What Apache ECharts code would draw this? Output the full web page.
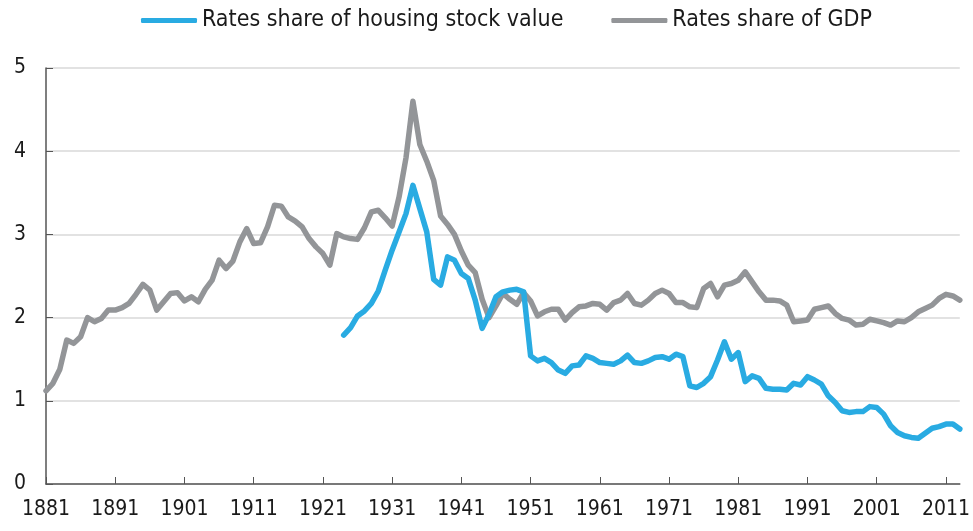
<!DOCTYPE html>
<html>
<head>
<meta charset="utf-8">
<script src="https://cdn.jsdelivr.net/npm/echarts@6/dist/echarts.min.js"></script>
<style>
  html, body { margin: 0; padding: 0; background: #fff; }
  #main { width: 973px; height: 531px; }
</style>
</head>
<body>
<div id="main"></div>
<script>
// years on the x axis
const firstYear = 1881;
const lastYear = 2013;
const years = [];
for (let y = firstYear; y <= lastYear; y++) years.push(String(y));

// Rates share of GDP, 1881-2013
const gdpShare = [
  1.12, 1.21, 1.38, 1.73, 1.69, 1.77, 2.00, 1.95, 1.99, 2.09,
  2.09, 2.12, 2.17, 2.28, 2.40, 2.33, 2.09, 2.19, 2.29, 2.30,
  2.20, 2.25, 2.19, 2.34, 2.45, 2.69, 2.59, 2.68, 2.91, 3.07,
  2.89, 2.90, 3.09, 3.35, 3.34, 3.21, 3.16, 3.09, 2.95, 2.85,
  2.77, 2.63, 3.01, 2.97, 2.95, 2.94, 3.08, 3.27, 3.29, 3.20,
  3.10, 3.45, 3.92, 4.60, 4.08, 3.88, 3.65, 3.22, 3.12, 3.00,
  2.80, 2.63, 2.54, 2.22, 2.00, 2.14, 2.29, 2.22, 2.16, 2.30,
  2.20, 2.02, 2.07, 2.10, 2.10, 1.97, 2.06, 2.13, 2.14, 2.17,
  2.16, 2.09, 2.18, 2.21, 2.29, 2.17, 2.15, 2.21, 2.29, 2.33,
  2.29, 2.18, 2.18, 2.13, 2.12, 2.35, 2.41, 2.25, 2.39, 2.41,
  2.45, 2.55, 2.43, 2.31, 2.21, 2.21, 2.20, 2.15, 1.95, 1.96,
  1.97, 2.10, 2.12, 2.14, 2.05, 1.99, 1.97, 1.91, 1.92, 1.98,
  1.96, 1.94, 1.91, 1.96, 1.95, 2.00, 2.07, 2.11, 2.15, 2.23,
  2.28, 2.26, 2.21
];

// Rates share of housing stock value, 1924-2013
const housingStart = 1924;
const housingShare = [
  1.79, 1.88, 2.02, 2.08, 2.17, 2.32, 2.57, 2.81, 3.03, 3.25,
  3.59, 3.31, 3.03, 2.46, 2.39, 2.73, 2.69, 2.53, 2.47, 2.21,
  1.87, 2.04, 2.25, 2.31, 2.33, 2.34, 2.31, 1.54, 1.48, 1.51,
  1.46, 1.37, 1.33, 1.42, 1.43, 1.54, 1.51, 1.46, 1.45, 1.44,
  1.48, 1.55, 1.46, 1.45, 1.48, 1.52, 1.53, 1.50, 1.56, 1.53,
  1.18, 1.16, 1.21, 1.29, 1.49, 1.71, 1.50, 1.58, 1.23, 1.30,
  1.27, 1.15, 1.14, 1.14, 1.13, 1.21, 1.19, 1.29, 1.25, 1.20,
  1.06, 0.98, 0.88, 0.86, 0.87, 0.87, 0.93, 0.92, 0.84, 0.70,
  0.62, 0.58, 0.56, 0.55, 0.61, 0.67, 0.69, 0.72, 0.72, 0.66
];

const housingData = years.map(function (y) {
  const i = Number(y) - housingStart;
  return i >= 0 ? housingShare[i] : null;
});

const fontFamily = "'DejaVu Sans Condensed', 'DejaVu Sans', sans-serif";
const every10 = function (i) { return i % 10 === 0; };

const myChart = echarts.init(document.getElementById('main'));
const option = {
  animation: false,
  textStyle: { fontFamily: fontFamily },
  grid: { left: 46, right: 13, top: 68, bottom: 47, containLabel: false },
  legend: {
    left: 136,
    top: 4,
    itemWidth: 56,
    itemHeight: 5,
    itemGap: 48,
    icon: 'roundRect',
    textStyle: { fontSize: 23, color: '#1a1a1a', fontFamily: fontFamily },
    data: ['Rates share of housing stock value', 'Rates share of GDP']
  },
  xAxis: {
    type: 'category',
    data: years,
    boundaryGap: false,
    axisLine: { lineStyle: { color: '#555', width: 1.5 } },
    axisTick: { inside: true, length: 7, interval: every10, lineStyle: { color: '#555' } },
    axisLabel: { interval: every10, fontSize: 21, color: '#1a1a1a', margin: 15, fontFamily: fontFamily },
    splitLine: { show: false }
  },
  yAxis: {
    type: 'value',
    min: 0,
    max: 5,
    interval: 1,
    axisLine: { show: true, lineStyle: { color: '#555', width: 1.5 } },
    axisTick: { show: true, inside: true, length: 7, lineStyle: { color: '#555' } },
    axisLabel: { fontSize: 21, color: '#1a1a1a', margin: 20, fontFamily: fontFamily },
    splitLine: { lineStyle: { color: '#d9d9d9', width: 1.5 } }
  },
  series: [
    {
      name: 'Rates share of housing stock value',
      type: 'line',
      data: housingData,
      symbol: 'none',
      color: '#29abe2',
      lineStyle: { width: 5.5, cap: 'round', join: 'round' },
      z: 3
    },
    {
      name: 'Rates share of GDP',
      type: 'line',
      data: gdpShare,
      symbol: 'none',
      color: '#939598',
      lineStyle: { width: 5.5, cap: 'round', join: 'round' },
      z: 2
    }
  ]
};
myChart.setOption(option);
</script>
</body>
</html>
